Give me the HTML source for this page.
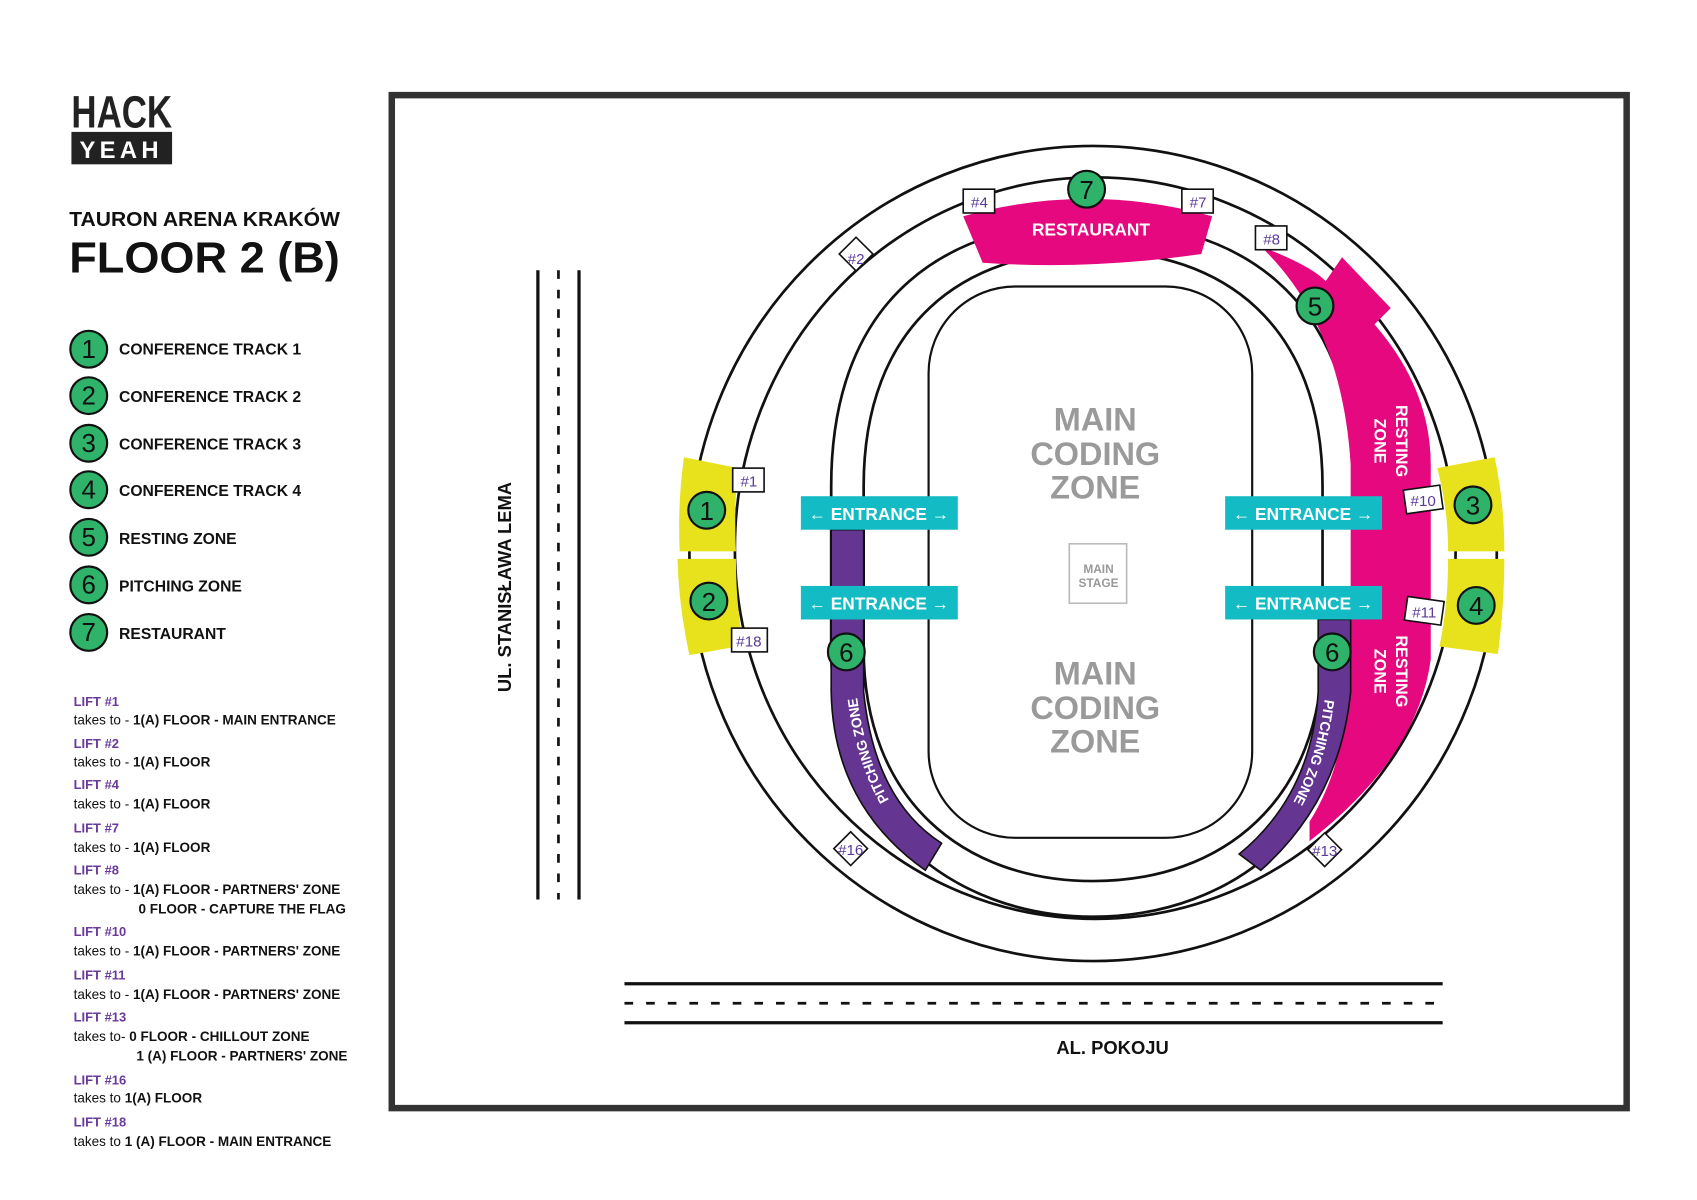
<!DOCTYPE html>
<html><head><meta charset="utf-8"><style>
html,body{margin:0;padding:0;background:#fff;}
svg{display:block;font-family:"Liberation Sans",sans-serif;}
.leg{font-weight:bold;font-size:14.5px;fill:#111;}
.lt{font-weight:bold;font-size:12px;fill:#6a3a9a;}
.lb{font-size:12.5px;fill:#111;}
.lb tspan.b{font-weight:bold;}
.num{font-size:24px;fill:#111;text-anchor:middle;}
.lift{font-size:14px;fill:#5a3a9a;text-anchor:middle;}
.ent{font-weight:bold;font-size:16px;fill:#fff;}
.mcz{font-weight:bold;font-size:30px;fill:#9a9a9a;text-anchor:middle;}
</style></head><body>
<svg width="1697" height="1200" viewBox="0 0 1568 1110" preserveAspectRatio="none">
<defs>
<path id="pl" d="M862,792 Q789,742 783,600"/>
<path id="pr" d="M1233,600 Q1228,740 1155,797"/>
</defs>
<text x="66" y="118" font-size="42" font-weight="bold" fill="#222" textLength="93" lengthAdjust="spacingAndGlyphs">HACK</text>
<rect x="66" y="122" width="93" height="30" fill="#222"/>
<text x="112" y="146" font-size="22" font-weight="bold" fill="#fff" text-anchor="middle" letter-spacing="4">YEAH</text>
<text x="64" y="209" font-size="19" font-weight="bold" fill="#111" textLength="250" lengthAdjust="spacingAndGlyphs">TAURON ARENA KRAKÓW</text>
<text x="64" y="252" font-size="40" font-weight="bold" fill="#111" textLength="250" lengthAdjust="spacingAndGlyphs">FLOOR 2 (B)</text>
<g>
<circle cx="82" cy="323" r="17" fill="#2fb36a" stroke="#111" stroke-width="2"/><text x="82" y="331" class="num" font-size="22">1</text><text x="110" y="328" class="leg">CONFERENCE TRACK 1</text>
<circle cx="82" cy="366" r="17" fill="#2fb36a" stroke="#111" stroke-width="2"/><text x="82" y="374" class="num" font-size="22">2</text><text x="110" y="372" class="leg">CONFERENCE TRACK 2</text>
<circle cx="82" cy="410" r="17" fill="#2fb36a" stroke="#111" stroke-width="2"/><text x="82" y="418" class="num" font-size="22">3</text><text x="110" y="416" class="leg">CONFERENCE TRACK 3</text>
<circle cx="82" cy="453" r="17" fill="#2fb36a" stroke="#111" stroke-width="2"/><text x="82" y="461" class="num" font-size="22">4</text><text x="110" y="459" class="leg">CONFERENCE TRACK 4</text>
<circle cx="82" cy="497" r="17" fill="#2fb36a" stroke="#111" stroke-width="2"/><text x="82" y="505" class="num" font-size="22">5</text><text x="110" y="503" class="leg">RESTING ZONE</text>
<circle cx="82" cy="541" r="17" fill="#2fb36a" stroke="#111" stroke-width="2"/><text x="82" y="549" class="num" font-size="22">6</text><text x="110" y="547" class="leg">PITCHING ZONE</text>
<circle cx="82" cy="585" r="17" fill="#2fb36a" stroke="#111" stroke-width="2"/><text x="82" y="593" class="num" font-size="22">7</text><text x="110" y="591" class="leg">RESTAURANT</text>
</g>
<g>
<text x="68" y="653" class="lt">LIFT #1</text><text x="68" y="670" class="lb">takes to - <tspan class="b">1(A) FLOOR - MAIN ENTRANCE</tspan></text>
<text x="68" y="692" class="lt">LIFT #2</text><text x="68" y="709" class="lb">takes to - <tspan class="b">1(A) FLOOR</tspan></text>
<text x="68" y="730" class="lt">LIFT #4</text><text x="68" y="748" class="lb">takes to - <tspan class="b">1(A) FLOOR</tspan></text>
<text x="68" y="770" class="lt">LIFT #7</text><text x="68" y="788" class="lb">takes to - <tspan class="b">1(A) FLOOR</tspan></text>
<text x="68" y="809" class="lt">LIFT #8</text><text x="68" y="827" class="lb">takes to - <tspan class="b">1(A) FLOOR - PARTNERS' ZONE</tspan></text><text x="128" y="845" class="lb"><tspan class="b">0 FLOOR - CAPTURE THE FLAG</tspan></text>
<text x="68" y="866" class="lt">LIFT #10</text><text x="68" y="884" class="lb">takes to - <tspan class="b">1(A) FLOOR - PARTNERS' ZONE</tspan></text>
<text x="68" y="906" class="lt">LIFT #11</text><text x="68" y="924" class="lb">takes to - <tspan class="b">1(A) FLOOR - PARTNERS' ZONE</tspan></text>
<text x="68" y="945" class="lt">LIFT #13</text><text x="68" y="963" class="lb">takes to- <tspan class="b">0 FLOOR - CHILLOUT ZONE</tspan></text><text x="126" y="981" class="lb"><tspan class="b">1 (A) FLOOR - PARTNERS' ZONE</tspan></text>
<text x="68" y="1003" class="lt">LIFT #16</text><text x="68" y="1020" class="lb">takes to <tspan class="b">1(A) FLOOR</tspan></text>
<text x="68" y="1042" class="lt">LIFT #18</text><text x="68" y="1060" class="lb">takes to <tspan class="b">1 (A) FLOOR - MAIN ENTRANCE</tspan></text>
</g>
<rect x="362" y="88" width="1141" height="937" fill="none" stroke="#333" stroke-width="6"/>
<line x1="497" y1="250" x2="497" y2="832" stroke="#111" stroke-width="3"/>
<line x1="535" y1="250" x2="535" y2="832" stroke="#111" stroke-width="3"/>
<line x1="516" y1="250" x2="516" y2="832" stroke="#111" stroke-width="2.5" stroke-dasharray="8 10"/>
<text transform="translate(472,543) rotate(-90)" font-size="17" font-weight="bold" fill="#111" text-anchor="middle">UL. STANISŁAWA LEMA</text>
<line x1="577" y1="910" x2="1333" y2="910" stroke="#111" stroke-width="3"/>
<line x1="577" y1="946" x2="1333" y2="946" stroke="#111" stroke-width="3"/>
<line x1="577" y1="928" x2="1333" y2="928" stroke="#111" stroke-width="2.5" stroke-dasharray="8 12"/>
<text x="1028" y="975" font-size="17" font-weight="bold" fill="#111" text-anchor="middle">AL. POKOJU</text>
<g fill="none" stroke="#111" stroke-width="2.5">
<ellipse cx="1010" cy="512" rx="373" ry="377"/>
<ellipse cx="1012" cy="507" rx="333" ry="343"/>
<path d="M768,450 C768,270 880,205 1010,205 C1140,205 1252,270 1252,450 L1252,600 C1252,760 1140,848 1010,848 C880,848 768,760 768,600 Z"/>
<path d="M798,450 C798,300 890,232 1010,232 C1130,232 1222,300 1222,450 L1222,600 C1222,740 1130,815 1010,815 C890,815 798,740 798,600 Z"/>
<rect x="858" y="265" width="299" height="510" rx="80" ry="80" stroke-width="2"/>
</g>
<path d="M1165,228 Q1210,245 1225,260 L1240,238 L1285,285 L1270,300 Q1322,360 1322,430 L1322,610 Q1310,700 1210,778 L1210,760 Q1248,700 1248,600 L1248,430 Q1240,300 1165,228 Z" fill="#e5087e"/>
<path d="M768,490 L798,490 L798,640 Q808,740 870,780 L855,805 Q770,745 768,640 Z" fill="#643591" stroke="#111" stroke-width="1.5"/>
<path d="M1218,573 L1248,573 L1248,640 Q1238,740 1165,805 L1145,790 Q1212,735 1218,640 Z" fill="#643591" stroke="#111" stroke-width="1.5"/>
<path d="M890,200 Q1005,168 1120,200 L1110,235 Q1005,250 908,243 Z" fill="#e5087e"/>
<text x="1008" y="218" font-size="16" font-weight="bold" fill="#fff" text-anchor="middle">RESTAURANT</text>
<path d="M632,423 L682,433 Q678,470 680,510 L628,510 Q626,465 632,423 Z" fill="#e8e21c"/>
<path d="M626,517 L680,517 Q680,560 687,597 L637,606 Q627,560 626,517 Z" fill="#e8e21c"/>
<path d="M1328,433 L1381,423 Q1390,465 1390,510 L1338,510 Q1338,470 1328,433 Z" fill="#e8e21c"/>
<path d="M1338,517 L1390,517 Q1390,560 1384,605 L1330,598 Q1338,560 1338,517 Z" fill="#e8e21c"/>
<text transform="translate(1290,408) rotate(90)" font-size="15" font-weight="bold" fill="#fff" text-anchor="middle">RESTING</text>
<text transform="translate(1270,408) rotate(90)" font-size="15" font-weight="bold" fill="#fff" text-anchor="middle">ZONE</text>
<text transform="translate(1290,621) rotate(90)" font-size="15" font-weight="bold" fill="#fff" text-anchor="middle">RESTING</text>
<text transform="translate(1270,621) rotate(90)" font-size="15" font-weight="bold" fill="#fff" text-anchor="middle">ZONE</text>
<text font-size="13" font-weight="bold" fill="#fff" dy="5"><textPath href="#pl" startOffset="55%" text-anchor="middle">PITCHING ZONE</textPath></text>
<text font-size="13" font-weight="bold" fill="#fff" dy="5"><textPath href="#pr" startOffset="45%" text-anchor="middle">PITCHING ZONE</textPath></text>
<g>
<rect x="740" y="459" width="145" height="31" fill="#13bcc4"/><text x="812" y="481" class="ent" text-anchor="middle">← ENTRANCE →</text>
<rect x="740" y="542" width="145" height="31" fill="#13bcc4"/><text x="812" y="564" class="ent" text-anchor="middle">← ENTRANCE →</text>
<rect x="1132" y="459" width="145" height="31" fill="#13bcc4"/><text x="1204" y="481" class="ent" text-anchor="middle">← ENTRANCE →</text>
<rect x="1132" y="542" width="145" height="31" fill="#13bcc4"/><text x="1204" y="564" class="ent" text-anchor="middle">← ENTRANCE →</text>
</g>
<text x="1012" y="398" class="mcz">MAIN</text><text x="1012" y="430" class="mcz">CODING</text><text x="1012" y="461" class="mcz">ZONE</text>
<text x="1012" y="633" class="mcz">MAIN</text><text x="1012" y="665" class="mcz">CODING</text><text x="1012" y="696" class="mcz">ZONE</text>
<rect x="988" y="503" width="53" height="55" fill="#fff" stroke="#bbb" stroke-width="1.5"/>
<text x="1015" y="530" font-size="11" font-weight="bold" fill="#999" text-anchor="middle">MAIN</text>
<text x="1015" y="543" font-size="11" font-weight="bold" fill="#999" text-anchor="middle">STAGE</text>
<g>
<circle cx="1004" cy="175" r="17" fill="#2fb36a" stroke="#111" stroke-width="2"/><text x="1004" y="184" class="num">7</text>
<circle cx="1215" cy="283" r="17" fill="#2fb36a" stroke="#111" stroke-width="2"/><text x="1215" y="292" class="num">5</text>
<circle cx="653" cy="472" r="17" fill="#2fb36a" stroke="#111" stroke-width="2"/><text x="653" y="481" class="num">1</text>
<circle cx="655" cy="556" r="17" fill="#2fb36a" stroke="#111" stroke-width="2"/><text x="655" y="565" class="num">2</text>
<circle cx="1361" cy="467" r="17" fill="#2fb36a" stroke="#111" stroke-width="2"/><text x="1361" y="476" class="num">3</text>
<circle cx="1364" cy="560" r="17" fill="#2fb36a" stroke="#111" stroke-width="2"/><text x="1364" y="569" class="num">4</text>
<circle cx="782" cy="603" r="17" fill="#2fb36a" stroke="#111" stroke-width="2"/><text x="782" y="612" class="num">6</text>
<circle cx="1231" cy="603" r="17" fill="#2fb36a" stroke="#111" stroke-width="2"/><text x="1231" y="612" class="num">6</text>
</g>
<g stroke="#111" stroke-width="1.5" fill="#fff">
<rect x="890" y="175" width="29" height="22"/>
<rect x="1092" y="175" width="29" height="22"/>
<rect x="1160" y="209" width="29" height="22"/>
<rect x="677" y="433" width="29" height="22"/>
<rect x="676" y="581" width="33" height="22"/>
<rect x="1298" y="451" width="34" height="22" transform="rotate(-8 1315 462)"/>
<rect x="1299" y="554" width="34" height="22" transform="rotate(8 1316 565)"/>
<rect x="780" y="224" width="22" height="22" transform="rotate(45 791 235)"/>
<rect x="775" y="774" width="22" height="22" transform="rotate(45 786 785)"/>
<rect x="1213" y="775" width="22" height="22" transform="rotate(45 1224 786)"/>
</g>
<g class="lift">
<text x="905" y="192" class="lift">#4</text>
<text x="1107" y="192" class="lift">#7</text>
<text x="1175" y="226" class="lift">#8</text>
<text x="692" y="450" class="lift">#1</text>
<text x="692" y="598" class="lift">#18</text>
<text x="1315" y="468" class="lift">#10</text>
<text x="1316" y="571" class="lift">#11</text>
<text x="791" y="244" class="lift" font-size="13">#2</text>
<text x="786" y="791" class="lift">#16</text>
<text x="1224" y="792" class="lift">#13</text>
</g>
</svg>
</body></html>
